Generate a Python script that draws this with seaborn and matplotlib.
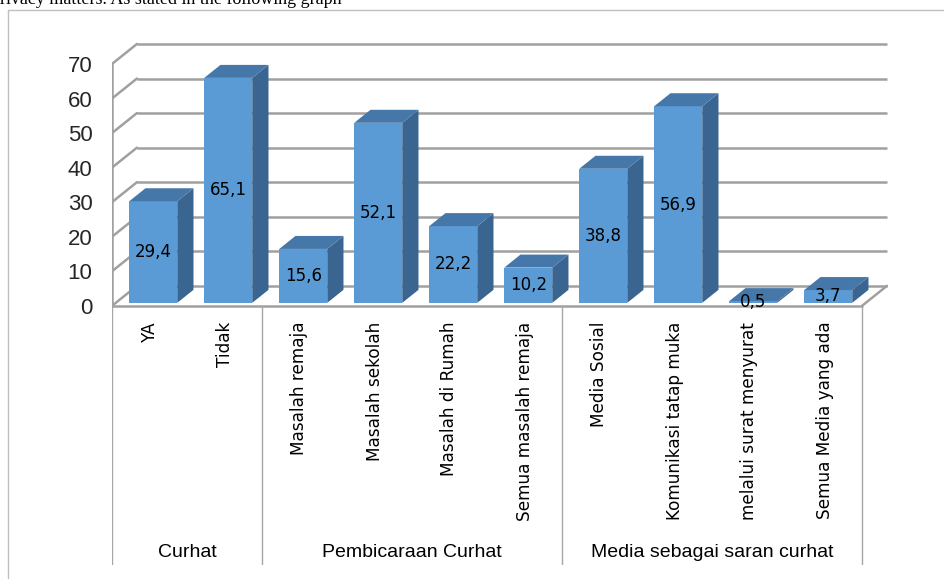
import matplotlib
matplotlib.use("Agg")
import matplotlib.pyplot as plt
import seaborn as sns
import pandas as pd
from matplotlib.patches import Polygon
from matplotlib.lines import Line2D

# ---- data ----
categories = ["YA", "Tidak", "Masalah remaja", "Masalah sekolah", "Masalah di Rumah",
              "Semua masalah remaja", "Media Sosial", "Komunikasi tatap muka",
              "melalui surat menyurat", "Semua Media yang ada"]
values = [29.4, 65.1, 15.6, 52.1, 22.2, 10.2, 38.8, 56.9, 0.5, 3.7]
value_labels = ["29,4", "65,1", "15,6", "52,1", "22,2", "10,2", "38,8", "56,9", "0,5", "3,7"]
groups = ["Curhat", "Pembicaraan Curhat", "Media sebagai saran curhat"]
group_sizes = [2, 4, 4]
y_ticks = [0, 10, 20, 30, 40, 50, 60, 70]
caption = "privacy matters. As stated in the following graph"

df = pd.DataFrame({"cat": categories, "val": values})

sns.set_theme(style="white")
plt.rcParams["font.family"] = ["DejaVu Sans"]

W, H = 944, 579
fig = plt.figure(figsize=(W / 100, H / 100), dpi=100)
fig.patch.set_facecolor("white")

# axes placement (pixel geometry)
px_left, px_right = 112, 892
px_bottom, px_top = 565, 41.5
ax = fig.add_axes([px_left / W, (H - px_bottom) / H,
                   (px_right - px_left) / W, (px_bottom - px_top) / H])
ax.set_facecolor("none")

FRONT = "#5B9BD5"
TOP = "#4677A9"
SIDE = "#3A6590"
GRID = "#A0A0A0"

sns.barplot(data=df, x="cat", y="val", order=categories, color=FRONT,
            saturation=1, width=0.64, errorbar=None, ax=ax, zorder=3,
            linewidth=0)

n = len(categories)
ax.set_xlim(-0.5, n - 0.5 + 0.4)
ax.set_ylim(-75, 76.5)

# 3D depth geometry (in data units)
DX = 0.333
DY = 5.79
d0, d1 = 0.15, 0.80

# back wall & side wall gridlines
for v in y_ticks:
    ax.plot([-0.5 + DX, n - 0.5 + DX], [v + DY, v + DY], color=GRID, lw=1.8,
            zorder=1, solid_capstyle="butt")
    ax.plot([-0.5, -0.5 + DX], [v, v + DY], color=GRID, lw=1.8, zorder=1)
ax.plot([-0.5, -0.5], [0, y_ticks[-1]], color=GRID, lw=1.8, zorder=1)
# floor
ax.plot([-0.5, n - 0.5], [0, 0], color=GRID, lw=1.8, zorder=1)
ax.plot([n - 0.5, n - 0.5 + DX], [0, DY], color=GRID, lw=1.8, zorder=1)

# bars: shift to depth d0 and add side/top faces
dxb, dyb = DX * (d1 - d0), DY * (d1 - d0)
for p, lab in zip(ax.patches, value_labels):
    p.set_x(p.get_x() + DX * d0)
    p.set_y(DY * d0)
    x0, y0 = p.get_x(), p.get_y()
    w, h = p.get_width(), p.get_height()
    x1 = x0 + w
    side = Polygon([(x1, y0), (x1 + dxb, y0 + dyb), (x1 + dxb, y0 + h + dyb), (x1, y0 + h)],
                   closed=True, facecolor=SIDE, edgecolor="none", zorder=3)
    top = Polygon([(x0, y0 + h), (x1, y0 + h), (x1 + dxb, y0 + h + dyb), (x0 + dxb, y0 + h + dyb)],
                  closed=True, facecolor=TOP, edgecolor="none", zorder=3)
    ax.add_patch(side)
    ax.add_patch(top)
    ax.text(x0 + w / 2, y0 + h / 2, lab, ha="center", va="center", fontsize=12,
            color="black", zorder=5)

# category axis box
BOX = "#A6A6A6"
bounds = [-0.5]
for s in group_sizes:
    bounds.append(bounds[-1] + s)
for b in bounds:
    ax.plot([b, b], [0, -75], color=BOX, lw=1.0, zorder=1)
for i, c in enumerate(categories):
    ax.text(i, -4.6, c, rotation=90, ha="center", va="top", fontsize=12.2, color="black")
for g, a, b in zip(groups, bounds[:-1], bounds[1:]):
    ax.text((a + b) / 2, -71.5, g, ha="center", va="center", fontsize=14,
            family=["Liberation Sans", "DejaVu Sans"], color="black")

# y axis
ax.set_yticks(y_ticks)
ax.set_yticklabels([str(v) for v in y_ticks], fontsize=16,
                   family=["Liberation Sans", "DejaVu Sans"])
ax.tick_params(axis="y", length=0, pad=14)
ax.set_xticks([])
ax.set_xlabel("")
ax.set_ylabel("")
for s in ax.spines.values():
    s.set_visible(False)
ax.grid(False)

# outer frame
fig.add_artist(Line2D([8 / W, 8 / W], [0, 1 - 10 / H], color="#BFBFBF", lw=1.0))
fig.add_artist(Line2D([8 / W, 1], [1 - 10 / H, 1 - 10 / H], color="#BFBFBF", lw=1.0))

# clipped caption of surrounding document
fig.text(342 / W, 1 - 4.4 / H, caption, ha="right", va="baseline", fontsize=13,
         family=["Liberation Serif", "DejaVu Serif"], color="black")

fig.savefig("out.png", dpi=100)
